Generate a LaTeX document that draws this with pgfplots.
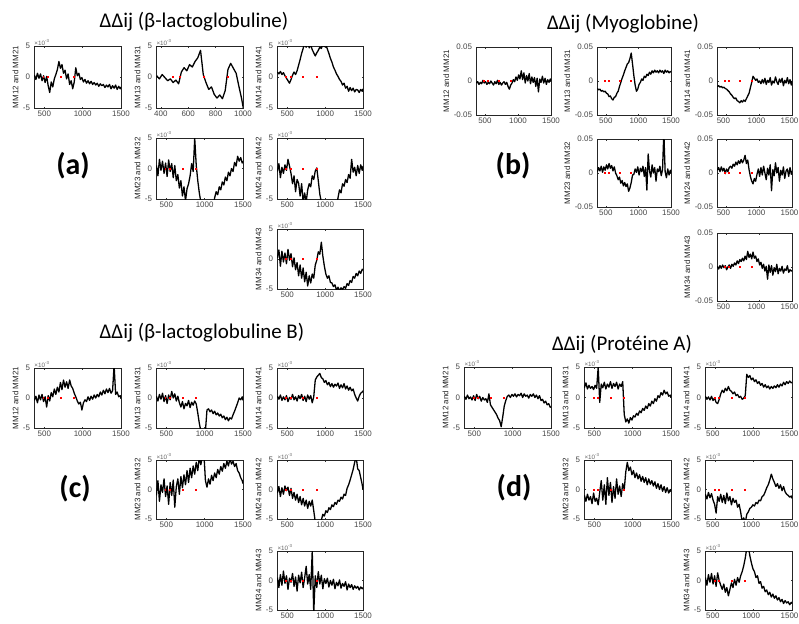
\documentclass[border=0pt]{standalone}
\usepackage{pgfplots}
\usepackage{pgfplotstable}
\pgfplotsset{compat=1.18}
\usepackage{fontspec}
\setmainfont{Liberation Sans}
\newfontfamily\calfont{Carlito}

\pgfplotstableread{
x a12 a13 a14 a23 a24 a34
370 0.3 0.2 0.8 0.5 -0.5 0.2
390 -0.4 -0.3 0.5 -1.2 0.8 1.5
410 0.6 0.4 0.9 1.5 -1.5 -1.2
430 -0.2 -0.1 0.4 -0.3 0.2 1.3
450 0.5 -0.6 0.7 1.2 -0.8 -0.5
470 -0.6 -0.3 0.2 -0.8 0.6 1.0
490 0.2 -0.9 -0.2 0.9 -0.3 -0.8
510 -0.9 -0.5 -0.6 -1.3 1.5 1.6
530 0.1 -1.1 -1.0 1.4 0.4 -0.2
550 -1.4 0.8 -0.4 -0.5 -0.8 0.9
570 -2.5 1.5 0.3 0.8 -2.5 -1.3
590 -0.8 1.0 0.8 -1.5 -1.2 0.2
610 -1.6 2.0 0.4 0.5 -3.8 -1.8
630 -0.3 1.6 1.0 -2.0 -1.8 -0.6
650 0.4 2.5 1.9 -1.0 -2.4 -2.8
670 1.2 3.1 2.8 -3.2 -4.5 -1.0
690 2.5 4.3 3.8 -2.0 -2.5 -3.2
710 1.4 0.4 4.6 -4.5 -5.5 -1.5
730 2.0 -0.9 5.5 -3.0 -4.0 -3.8
750 0.6 -2.0 4.8 -5.3 -5.5 -2.2
770 1.1 -1.6 5.6 -3.3 -3.5 -4.5
790 -0.3 -2.8 4.7 -2.5 -2.5 -2.8
810 0.5 -3.4 5.2 -1.2 -3.0 -4.0
830 -1.2 -2.9 4.4 0.8 -1.2 -2.5
850 -0.6 -3.5 3.9 -0.5 -1.8 -3.2
870 -1.9 -2.2 3.4 5.0 -0.4 -1.0
890 -0.8 1.2 3.9 0.5 0.1 -0.2
910 1.5 2.2 4.3 -2.0 -2.0 1.2
930 0.2 1.4 4.8 -4.0 -4.2 0.8
950 0.6 0.6 4.6 -5.5 -5.5 2.8
970 -0.4 -1.5 5.3 -6.5 -6.5 0.5
990 -0.1 -3.5 4.9 -7.0 -6.5 -1.2
1010 -0.8 -6.0 5.2 -6.8 -6.5 -2.5
1030 -0.4 -6.0 4.5 -7.0 -6.5 -3.2
1050 -1.0 -6.0 3.8 -6.8 -6.5 -2.8
1070 -0.6 -6.0 3.0 -7.0 -6.5 -3.9
1090 -1.1 -6.0 2.4 -6.8 -6.5 -4.0
1110 -0.7 -6.0 1.6 -6.5 -6.5 -4.6
1130 -1.2 -6.0 1.1 -4.8 -6.5 -4.3
1150 -0.9 -6.0 0.5 -3.8 -6.5 -5.2
1170 -1.3 -6.0 0.1 -4.3 -4.8 -4.7
1190 -1.0 -6.0 -0.4 -3.0 -3.5 -5.3
1210 -1.5 -6.0 -0.7 -3.5 -4.0 -4.8
1230 -1.1 -6.0 -1.3 -2.2 -2.5 -5.1
1250 -1.4 -6.0 -1.0 -2.7 -2.9 -4.6
1270 -1.2 -6.0 -1.8 -1.4 -1.8 -4.9
1290 -1.7 -6.0 -1.5 -2.0 -2.3 -4.1
1310 -1.3 -6.0 -2.3 -0.6 -1.0 -4.4
1330 -1.6 -6.0 -1.7 -1.2 -1.6 -3.6
1350 -1.2 -6.0 -2.2 0.0 1.5 -3.9
1370 -1.9 -6.0 -1.8 -0.5 -0.6 -2.9
1390 -1.4 -6.0 -2.4 1.0 0.2 -3.2
1410 -1.8 -6.0 -2.0 0.4 -1.2 -2.4
1430 -1.3 -6.0 -2.1 2.0 0.5 -2.8
1450 -2.0 -6.0 -2.5 1.2 -0.8 -2.0
1470 -1.5 -6.0 -2.0 1.8 0.6 -2.4
1490 -1.9 -6.0 -2.3 0.9 -0.3 -1.7
1500 -1.6 -6.0 -1.9 1.2 0.4 -1.9
}\tabA

% panel (b): values in units of 0.01
\pgfplotstableread{
x b12 b13 b14 b23 b24 b34
370 -0.3 -1.1 -0.8 0.2 0.4 0.1
390 -0.1 -1.3 -0.7 0.8 0.8 -0.3
410 -0.5 -1.2 -0.9 0.3 0.2 0.2
430 -0.2 -1.5 -0.8 1.0 0.9 -0.2
450 -0.4 -1.4 -1.0 0.1 0.3 0.3
470 0.1 -1.6 -0.9 0.9 0.7 -0.1
490 -0.3 -1.5 -1.1 0.4 -0.1 0.2
510 -0.1 -1.8 -1.2 1.2 0.6 -0.4
530 -0.5 -1.9 -1.4 0.6 0.2 0.0
550 -0.2 -2.3 -1.6 1.4 0.8 0.3
570 -0.4 -2.2 -1.9 0.7 1.0 -0.2
590 0.0 -2.6 -2.1 1.1 0.7 0.4
610 -0.3 -2.8 -2.4 0.3 1.3 0.1
630 -0.6 -2.4 -2.6 0.9 1.0 0.6
650 -0.1 -2.3 -2.5 0.0 1.6 0.3
670 -0.4 -1.8 -2.9 -0.4 1.2 0.9
690 0.1 -1.5 -3.0 -1.0 1.8 0.5
710 -0.5 -0.8 -3.2 -0.6 1.4 1.1
730 -0.2 -0.2 -2.9 -1.5 2.0 0.8
750 -0.6 0.4 -3.1 -1.1 1.5 1.3
770 -0.3 0.9 -2.8 -1.9 1.9 0.9
790 -0.1 1.5 -3.0 -1.4 2.6 1.6
810 -0.5 2.0 -2.6 -2.0 1.4 1.1
830 -0.2 2.5 -2.2 -1.6 1.9 2.3
850 -0.8 2.7 -1.8 -2.7 0.5 1.4
870 -1.2 3.3 -1.0 -2.2 -0.5 1.9
890 -0.6 4.1 -0.2 -1.4 -1.2 1.2
910 -0.3 2.5 0.7 -0.3 -1.6 2.2
930 0.2 0.8 0.4 -0.2 -0.8 1.3
950 -0.1 -0.6 0.1 0.6 -1.2 1.6
970 0.6 -1.5 0.3 0.1 -0.2 0.8
990 0.1 -1.2 -0.2 0.9 0.6 1.2
1010 0.9 -0.5 0.0 -0.3 -0.5 0.3
1030 0.3 -0.2 -0.4 0.7 0.8 0.7
1050 1.5 0.3 0.2 0.2 -0.3 -0.2
1070 0.2 0.1 -0.3 1.0 1.0 0.4
1090 1.2 0.7 0.4 -0.5 0.0 -0.6
1110 -0.3 0.5 -0.5 0.8 -1.0 0.1
1130 0.8 1.0 0.1 -2.5 0.7 -1.8
1150 0.0 0.8 -0.2 2.8 -0.3 0.3
1170 1.1 1.3 0.5 0.3 1.2 -0.8
1190 -0.4 1.0 -0.6 -0.6 -2.6 0.2
1210 0.6 1.5 0.0 1.2 0.5 -1.2
1230 -0.2 1.2 -0.3 0.0 -0.4 -0.1
1250 0.5 1.6 0.6 0.8 1.5 -0.7
1270 -0.8 1.3 -0.1 -1.2 0.0 0.4
1290 0.4 1.5 -0.5 0.6 0.8 -1.0
1310 -1.6 1.2 0.3 0.2 -1.2 -0.2
1330 0.3 1.6 -0.2 1.0 0.4 -0.6
1350 -0.2 1.3 0.4 -0.4 -0.3 0.1
1370 0.7 1.5 -0.7 0.5 0.9 -0.9
1390 -0.3 1.1 0.1 6.0 -0.8 -0.3
1410 0.4 1.6 -0.3 0.2 0.3 -0.5
1430 -0.5 1.3 0.5 -0.7 0.6 0.2
1450 0.2 1.5 -0.4 0.6 -0.5 -0.8
1470 -0.2 1.2 0.2 -0.3 0.8 -0.4
1490 0.3 1.4 -0.6 0.4 -0.2 -0.6
1500 0.0 1.3 0.0 0.0 0.3 -0.5
}\tabB

\pgfplotstableread{
x c12 c13 c14 c23 c24 c34
370 -0.4 0.3 0.3 -1.0 -0.6 0.5
390 0.3 -0.5 -0.2 1.5 0.5 -1.2
410 -0.8 0.6 0.5 -2.0 -1.2 1.0
430 0.5 -0.2 -0.4 0.8 0.3 -0.8
450 -0.3 0.8 0.2 -0.5 -0.8 1.6
470 0.6 -0.6 -0.3 1.8 0.6 -0.5
490 -0.6 0.4 0.4 -1.2 -0.2 0.8
510 0.2 -0.9 -0.6 0.6 0.4 -1.5
530 -1.5 0.5 0.1 -2.5 -1.0 0.4
550 0.4 -0.3 -0.2 1.2 0.2 -0.3
570 -0.5 1.1 0.6 -1.0 -1.5 1.2
590 0.9 0.0 -0.3 1.6 -0.5 -1.0
610 0.2 0.7 0.2 -3.0 -1.8 0.6
630 1.5 -0.5 -0.5 0.5 -0.8 -1.8
650 0.6 0.3 0.4 1.8 -2.2 0.9
670 1.8 -0.8 -0.1 -0.8 -1.2 -0.4
690 1.0 -1.5 0.6 2.2 -2.6 1.4
710 2.6 -0.6 -0.4 0.3 -1.5 -1.2
730 1.4 -1.8 0.3 2.5 -2.8 0.5
750 3.0 -0.9 -0.6 0.8 -1.8 2.4
770 1.8 -1.3 0.5 3.2 -3.2 -0.6
790 2.7 -0.4 -0.2 1.2 -2.0 1.0
810 1.6 -1.6 0.4 3.6 -2.8 -1.5
830 3.0 -0.7 -0.8 2.0 -1.8 5.0
850 2.0 -1.2 0.2 4.0 -3.6 -5.5
870 1.6 -0.5 3.0 2.6 -5.5 0.8
890 0.8 -1.0 3.5 4.6 -6.0 -1.2
910 0.2 -2.5 3.8 3.2 -5.8 1.5
930 -0.5 -4.2 4.1 5.5 -6.0 -0.6
950 -1.0 -5.5 3.4 4.2 -5.2 0.9
970 -0.7 -6.0 3.2 5.5 -4.2 -1.4
990 -2.0 -5.8 2.6 6.0 -4.5 0.3
1010 -0.8 -5.5 2.9 1.5 -3.6 -0.5
1030 -0.3 -2.0 2.2 0.4 -3.9 0.4
1050 -0.6 -1.8 2.6 1.8 -3.1 -1.1
1070 0.2 -2.3 1.9 0.9 -3.4 0.0
1090 -0.4 -2.0 2.4 2.4 -2.6 -0.8
1110 0.3 -2.6 1.8 1.5 -2.9 0.2
1130 -0.2 -2.2 2.3 2.8 -2.2 -1.4
1150 0.5 -2.8 2.0 2.0 -2.5 -0.3
1170 0.0 -2.5 2.5 3.4 -1.8 -0.9
1190 0.6 -3.0 1.6 2.6 -2.0 0.1
1210 0.2 -2.7 2.2 3.9 -1.3 -1.3
1230 1.0 -3.3 1.7 3.1 -1.6 -0.5
1250 0.5 -3.0 2.4 4.4 -0.8 -1.0
1270 1.3 -3.6 1.5 3.6 -1.0 -0.2
1290 0.7 -3.2 2.0 4.8 0.2 -1.6
1310 1.5 -3.8 1.3 4.0 0.8 -0.6
1330 0.9 -3.3 1.8 5.3 1.6 -1.2
1350 1.6 -3.5 1.2 4.3 2.5 -0.7
1370 0.8 -2.8 1.5 4.8 3.4 -1.5
1390 1.2 -2.2 0.6 3.9 4.6 -0.9
1410 5.5 -1.5 0.0 4.4 5.5 -1.3
1430 0.6 -0.8 -0.5 3.2 3.5 -1.0
1450 1.0 0.0 0.3 2.8 3.2 -1.6
1470 0.2 -0.3 0.8 2.0 2.0 -1.1
1490 0.4 0.2 1.0 1.5 0.8 -1.4
1500 0.0 -0.4 1.2 1.0 0.0 -1.2
}\tabC

\pgfplotstableread{
x d12 d13 d14 d23 d24 d34
370 0.2 1.6 0.2 -1.0 -0.8 0.5
390 -0.3 2.4 -0.3 -2.0 -1.6 -0.8
410 0.4 1.4 0.1 -0.8 -0.5 1.0
430 -0.2 2.0 -0.4 -1.8 -1.4 -0.3
450 0.1 1.5 0.2 -1.2 -0.7 1.2
470 -0.4 1.8 -0.5 -2.4 -1.8 -0.6
490 0.3 1.3 -0.1 -0.6 -2.5 0.8
510 -0.5 2.0 -0.8 -2.0 -4.0 -1.0
530 0.5 1.5 -1.0 -1.5 -1.2 1.3
550 -0.2 5.0 -0.3 -2.6 -2.0 0.0
570 0.2 -0.8 0.6 -0.5 -0.8 -0.8
590 -0.6 2.2 1.2 1.5 -2.2 -1.5
610 0.0 1.6 0.8 -1.8 -1.0 -0.6
630 -0.4 2.5 1.5 0.8 -2.4 -2.0
650 -0.2 1.4 1.1 -2.5 -0.6 -1.2
670 -0.8 2.2 1.8 2.0 -1.9 -2.6
690 0.6 1.7 1.2 -1.0 -1.2 -1.5
710 -1.2 2.6 1.0 1.2 -2.6 -0.4
730 -1.6 1.5 0.6 -2.2 -1.5 -1.2
750 -2.0 2.3 0.9 0.5 -2.2 0.2
770 -2.4 1.8 0.3 -1.5 -1.8 -0.8
790 -2.8 2.5 0.5 1.8 -3.0 0.5
810 -3.4 1.4 0.0 -0.8 -2.5 -0.3
830 -3.8 2.2 0.2 0.6 -3.8 0.8
850 -4.8 1.8 -0.3 -1.2 -5.5 1.5
870 -3.2 2.6 -0.1 1.0 -4.8 2.5
890 -1.4 -2.8 0.3 0.0 -5.6 3.8
910 -0.5 -4.0 3.8 3.0 -4.2 5.5
930 0.2 -3.5 3.3 4.6 -3.8 5.8
950 0.4 -4.2 3.6 3.2 -3.2 4.2
970 0.0 -3.3 2.9 3.8 -3.0 3.0
990 0.5 -3.7 3.2 2.5 -2.6 2.0
1010 0.2 -3.0 2.6 3.2 -2.8 1.5
1030 0.6 -3.2 2.9 2.0 -2.2 0.5
1050 0.1 -2.6 2.3 2.8 -2.4 0.8
1070 0.5 -2.9 2.6 1.8 -1.8 -0.5
1090 0.3 -2.2 2.0 2.5 -1.9 -0.2
1110 0.7 -2.5 2.3 1.4 -1.2 -1.3
1130 0.0 -1.8 1.7 2.2 -1.0 -1.0
1150 0.6 -2.1 2.1 1.2 -0.4 -1.9
1170 0.2 -1.4 1.6 2.0 0.3 -1.6
1190 0.4 -1.8 1.9 0.8 0.8 -2.4
1210 -0.1 -1.0 1.4 1.8 1.6 -2.0
1230 0.5 -1.4 1.8 0.9 2.6 -2.8
1250 0.2 -0.6 1.5 1.5 1.8 -2.3
1270 0.6 -1.0 1.9 0.6 1.2 -3.0
1290 0.0 -0.2 1.6 1.3 0.5 -2.6
1310 0.4 -0.6 2.1 0.2 1.0 -3.3
1330 -0.2 0.3 1.7 1.0 0.2 -2.9
1350 0.3 0.0 2.2 0.0 0.8 -3.6
1370 -0.5 0.8 1.9 0.8 -0.2 -3.2
1390 -0.3 0.4 2.5 -0.3 0.5 -3.9
1410 -0.9 1.2 2.1 0.5 -0.4 -3.4
1430 -0.6 0.6 2.6 -0.5 -0.8 -3.8
1450 -1.2 0.9 2.3 0.3 -1.0 -3.6
1470 -1.0 0.2 2.7 -0.6 -1.3 -4.1
1490 -1.6 0.4 2.4 0.0 -1.1 -3.7
1500 -1.5 0.0 2.5 -0.4 -1.5 -3.9
}\tabD

\pgfplotstableread{
x y
485 0
540 0
710 0
885 0
}\redpts

\pgfplotsset{
  mm/.style={scale only axis, anchor=south west,
    xmin=365, xmax=1500, ymin=-5, ymax=5,
    xtick={500,1000,1500}, ytick={-5,0,5},
    axis line style={black!85, line width=0.6bp},
    tick align=inside, major tick length=1.5bp,
    tick style={black!80, line width=0.4bp},
    ticklabel style={font=\fontsize{8}{9}\selectfont, text=black!72},
    /pgf/number format/assume math mode=true,
    /pgf/number format/1000 sep={},
    yticklabel style={xshift=-0.5bp},
    xticklabel style={yshift=0.5bp},
    ylabel style={font=\fontsize{8}{9}\selectfont, text=black!85, inner sep=1bp},
  },
  sci/.style={after end axis/.append code={
    \node[anchor=south west, inner sep=0.3bp, font=\fontsize{6.3}{7}\selectfont, text=black!60] at (rel axis cs:0,1) {×10\textsuperscript{-3}};}},
  bst/.style={yticklabels={-0.05,0,0.05}},
  edge/.style={xticklabel style={xshift=-2.5bp}},
}

\newcommand\mmax[8]{%
\begin{axis}[mm, at={(#1bp,-#2bp)}, width=#3bp, height=#4bp, ylabel={#7}, #8]
\addplot[black, line width=1.3pt, line join=round] table[x=x, y=#6] {#5};
\addplot[red, only marks, mark=square*, mark size=0.5pt] table[x=x, y=y] {\redpts};
\end{axis}}

\begin{document}
\begin{tikzpicture}
\useasboundingbox (0,0) rectangle (799bp,-624bp);
% titles and panel letters
\node[font=\calfont\fontsize{21}{25}\selectfont, anchor=base] at (194bp,-27.5bp) {ΔΔij (β-lactoglobuline)};
\node[font=\calfont\fontsize{21}{25}\selectfont, anchor=base] at (623bp,-29bp) {ΔΔij (Myoglobine)};
\node[font=\calfont\fontsize{21}{25}\selectfont, anchor=base] at (202bp,-338bp) {ΔΔij (β-lactoglobuline B)};
\node[font=\calfont\fontsize{21}{25}\selectfont, anchor=base] at (622bp,-350.5bp) {ΔΔij (Protéine A)};
\node[font=\calfont\bfseries\fontsize{30}{34}\selectfont] at (73bp,-166bp) {(a)};
\node[font=\calfont\bfseries\fontsize{30}{34}\selectfont] at (513bp,-166bp) {(b)};
\node[font=\calfont\bfseries\fontsize{30}{34}\selectfont] at (75bp,-489bp) {(c)};
\node[font=\calfont\bfseries\fontsize{30}{34}\selectfont] at (514bp,-488bp) {(d)};

% panel (a)
\mmax{34}{108}{87}{62}{\tabA}{a12}{MM12 and MM21}{sci}
\mmax{156}{108}{87}{62}{\tabA}{a13}{MM13 and MM31}{sci, xmax=1000, xtick={400,600,800,1000}}
\mmax{277}{108}{86}{62}{\tabA}{a14}{MM14 and MM41}{sci}
\mmax{156}{199}{87}{61}{\tabA}{a23}{MM23 and MM32}{sci}
\mmax{277}{199}{86}{61}{\tabA}{a24}{MM24 and MM42}{sci}
\mmax{277}{289}{86}{60}{\tabA}{a34}{MM34 and MM43}{sci}

% panel (b)
\mmax{476}{115}{75}{68}{\tabB}{b12}{MM12 and MM21}{bst}
\mmax{597}{115}{74}{68}{\tabB}{b13}{MM13 and MM31}{bst}
\mmax{717}{115}{75}{68}{\tabB}{b14}{MM14 and MM41}{bst, edge}
\mmax{597}{207}{74}{68}{\tabB}{b23}{MM23 and MM32}{bst}
\mmax{717}{207}{75}{68}{\tabB}{b24}{MM24 and MM42}{bst, edge}
\mmax{717}{301}{75}{68}{\tabB}{b34}{MM34 and MM43}{bst, edge}

% panel (c)
\mmax{34}{428}{87}{60}{\tabC}{c12}{MM12 and MM21}{sci}
\mmax{156}{428}{87}{60}{\tabC}{c13}{MM13 and MM31}{sci}
\mmax{277}{428}{86}{60}{\tabC}{c14}{MM14 and MM41}{sci}
\mmax{156}{519}{87}{59}{\tabC}{c23}{MM23 and MM32}{sci}
\mmax{277}{519}{86}{59}{\tabC}{c24}{MM24 and MM42}{sci}
\mmax{277}{610}{86}{59}{\tabC}{c34}{MM34 and MM43}{sci}

% panel (d)
\mmax{464}{428}{87}{61}{\tabD}{d12}{MM12 and MM21}{sci}
\mmax{584}{428}{87}{61}{\tabD}{d13}{MM13 and MM31}{sci}
\mmax{705}{428}{87}{61}{\tabD}{d14}{MM14 and MM41}{sci, edge}
\mmax{584}{519}{87}{59}{\tabD}{d23}{MM23 and MM32}{sci}
\mmax{705}{519}{87}{59}{\tabD}{d24}{MM24 and MM42}{sci, edge}
\mmax{705}{610}{87}{59}{\tabD}{d34}{MM34 and MM43}{sci, edge}
\end{tikzpicture}
\end{document}
